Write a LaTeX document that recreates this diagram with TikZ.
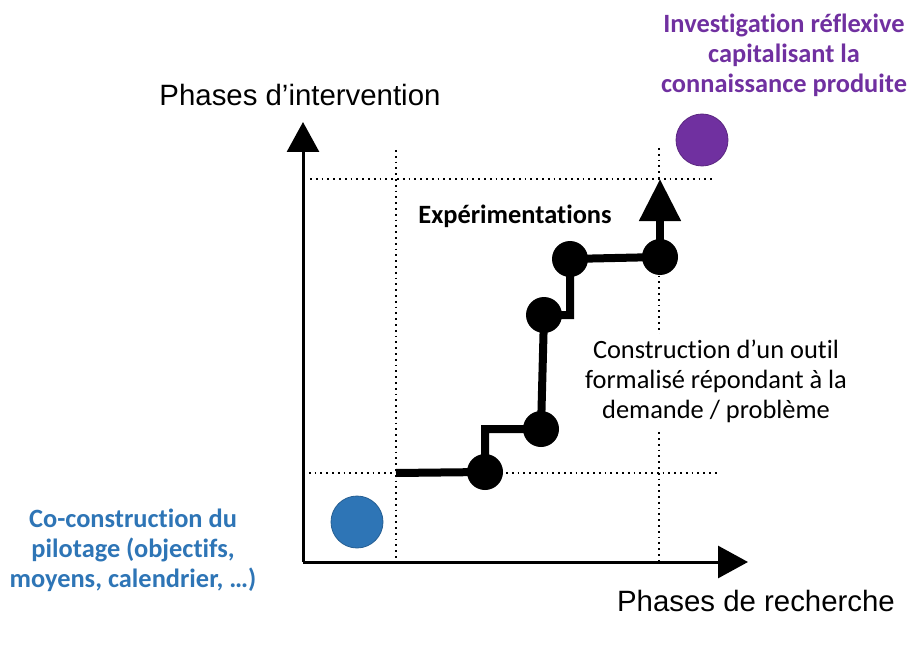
\documentclass[tikz,border=0pt]{standalone}
\usepackage{fontspec}
\setmainfont{Carlito}[Ligatures=NoCommon]
\newfontfamily\arialfont{Liberation Sans}
\usetikzlibrary{arrows.meta}
\definecolor{pilotblue}{HTML}{2E75B6}
\definecolor{reflexpurple}{HTML}{7030A0}

\begin{document}
\begin{tikzpicture}[x=1bp,y=-1bp,line width=3bp,
    axis/.style={-{Triangle[length=30bp,width=32bp]}},
    guide/.style={line width=1.8bp,dash pattern=on 1.8bp off 4bp},
    stair/.style={line width=8bp},
    stepdot/.style={circle,fill=black,minimum size=36bp,inner sep=0pt},
    bigdot/.style={circle,minimum size=52bp,inner sep=0pt,draw=#1!80!black,line width=0.8bp,fill=#1},
    axislabel/.style={font=\arialfont\fontsize{29.5}{34}\selectfont},
    note/.style={align=center,font=\fontsize{26.5}{30}\selectfont}]
\useasboundingbox (0,0) rectangle (909,648);
% axes
\coordinate (O) at (303,562);
\coordinate (ytop) at (303,122);
\coordinate (xend) at (748,562);
\draw[axis] (O) -- (ytop);
\draw[axis] (O) -- (xend);
\node[axislabel] (ylab) at (300,95) {Phases d’intervention};
\node[axislabel] (xlab) at (756,601) {Phases de recherche};
% guides
\draw[guide] (396,150) -- (396,562);
\draw[guide] (659,148) -- (659,562);
\draw[guide] (303,473) -- (720,473);
\draw[guide] (310,179) -- (715,179);
\node[note,fill=white,inner sep=6bp] (outil) at (716,381) {Construction d’un outil\\formalisé répondant à la\\demande / problème};
% staircase
\coordinate (start) at (396,473);
\node[stepdot] (s1) at (485,472) {};
\node[stepdot] (s2) at (541,429) {};
\node[stepdot] (s3) at (544,315) {};
\node[stepdot] (s4) at (570,259) {};
\node[stepdot] (s5) at (660,257) {};
\coordinate (top) at (660,179);
\draw[stair] (start) -- (s1.center) |- (s2.center);
\draw[stair] (s2.center) -- (s3.center) -| (s4.center) -- (s5.center);
\draw[stair,-{Triangle[length=42bp,width=40bp]}] (s5.center) -- (top);
\node[note,font=\bfseries\fontsize{26.5}{30}\selectfont] (exp) at (515,216) {Expérimentations};
% phases
\node[bigdot=pilotblue] (pilot) at (357,522) {};
\node[bigdot=reflexpurple] (reflex) at (702,140) {};
\node[note,font=\bfseries\fontsize{26.5}{30}\selectfont,text=pilotblue] (pilottxt) at (133,550) {Co-construction du\\pilotage (objectifs,\\moyens, calendrier, …)};
\node[note,font=\bfseries\fontsize{26.5}{30}\selectfont,text=reflexpurple] (reflextxt) at (784,55) {Investigation réflexive\\capitalisant la\\connaissance produite};
\end{tikzpicture}
\end{document}
